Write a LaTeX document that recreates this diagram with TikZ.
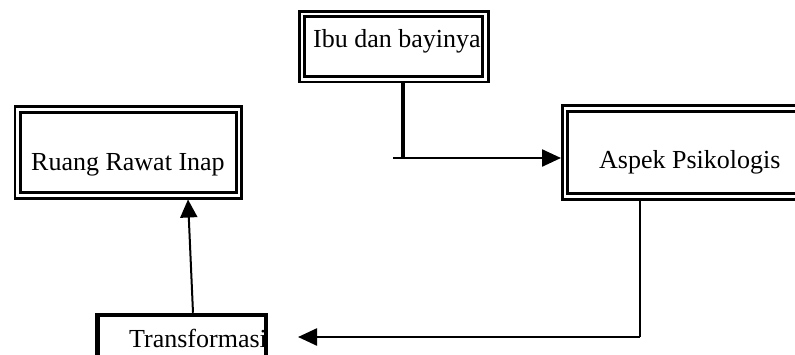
\documentclass[tikz,border=0pt]{standalone}
\usepackage{fontspec}
\setmainfont{Liberation Serif}
\usetikzlibrary{arrows.meta}
\begin{document}
\begin{tikzpicture}[x=1pt,y=-1pt,
  dbox/.style={draw, double, line width=2.8pt, double distance=2.6pt, outer sep=4pt, inner sep=0pt, fill=white},
  tbox/.style={draw, line width=4.5pt, outer sep=2.25pt, inner sep=0pt},
  txt/.style={inner sep=0pt, anchor=base west, font=\fontsize{26}{30}\selectfont},
  conn/.style={line width=2.4pt},
  arr/.style={line width=2.4pt, -{Triangle[length=19pt,width=17pt]}}]
\clip (0,0) rectangle (795,354);
\fill[white] (0,0) rectangle (795,354);
% boxes
\node[dbox, minimum width=183.5pt, minimum height=65.3pt] (ibu) at (393.75,46.6) {};
\node[dbox, minimum width=221.3pt, minimum height=86pt] (ruang) at (128.4,152.5) {};
\node[dbox, minimum width=245pt, minimum height=88pt] (aspek) at (687.5,152.5) {};
\node[tbox, minimum width=168.5pt, minimum height=55pt] (trans) at (181.75,342.5) {};
% texts
\node[txt] (tibu) at (313,47) {Ibu dan bayinya};
\node[txt] (truang) at (31,170) {Ruang Rawat Inap};
\node[txt] (taspek) at (599,168) {Aspek Psikologis};
\node[txt] (ttrans) at (129,347) {Transformasi};
% connectors
\coordinate (jn) at (403,158);
\coordinate (js) at (393,158);
\draw[line width=4pt] (jn |- ibu.south) -- (jn);
\draw[arr] (js) -- (aspek.west |- js);
\coordinate (ab) at (640,337);
\coordinate (at) at (298,337);
\draw[conn] (ab |- aspek.south) -- (ab);
\draw[arr] (ab) -- (at);
\coordinate (tt) at (193,313);
\coordinate (rb) at (188,198);
\draw[line width=2pt, -{Triangle[length=18pt,width=17pt]}] (trans.north -| tt) -- (ruang.south -| rb);
\end{tikzpicture}
\end{document}
